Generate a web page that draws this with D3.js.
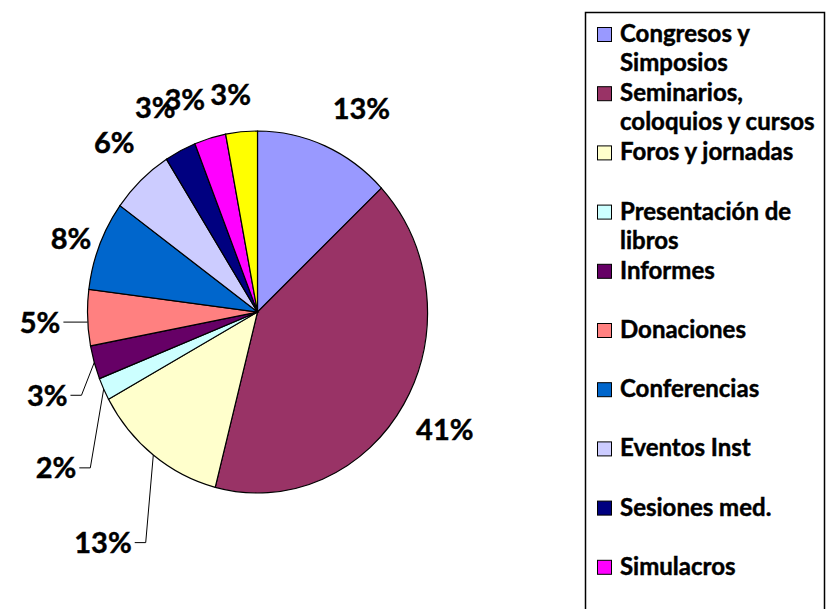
<!DOCTYPE html>
<html>
<head>
<meta charset="utf-8">
<script src="https://cdn.jsdelivr.net/npm/d3@7"></script>
<style>
    body { margin: 0; background: #fff; }
    svg text { font-family: Lato, "Open Sans", sans-serif; font-weight: bold; fill: #000; stroke: #000; stroke-width: 0.45px; }
</style>
</head>
<body>
<div id="chart"></div>
<script>
const categories = [
    "Congresos y|Simposios", "Seminarios,|coloquios y cursos", "Foros y jornadas",
    "Presentación de|libros", "Informes", "Donaciones", "Conferencias",
    "Eventos Inst", "Sesiones med.", "Simulacros", "Otros"
];
const shares = [13, 41, 13, 2, 3, 5, 8, 6, 3, 3, 3];
const sliceColors = [
    "#9999FF", "#993366", "#FFFFCC", "#CCFFFF", "#660066", "#FF8080",
    "#0066CC", "#CCCCFF", "#000080", "#FF00FF", "#FFFF00"
];

// label placement: angle (deg, clockwise from 12 o'clock) and radius factor, hand-tuned like the original
const labelPlacement = {
    0: { angle: 28.5, f: 1.28 },
    2: { angle: 215.5, f: 1.565, leader: true },
    3: { angle: 234, f: 1.465, leader: true },
    4: { angle: 249.6, f: 1.32, leader: true },
    5: { angle: 267.5, f: 1.28, leader: true },
    6: { angle: 290.4, f: 1.17 },
    7: { angle: 318, f: 1.26 },
    8: { angle: 332, f: 1.28 },
    9: { angle: 340, f: 1.25 },
    10: { angle: 352.5, f: 1.21 }
};

const W = 827, H = 609;
const cx = 257.5, cy = 312, rx = 170, ry = 181;

const svg = d3.select("#chart").append("svg")
    .attr("width", W)
    .attr("height", H);

const data = shares.map((v, i) => ({ name: categories[i], value: v, color: sliceColors[i] }));

const pie = d3.pie().sort(null).value(d => d.value).startAngle(0).endAngle(2 * Math.PI);
const arcs = pie(data);
const arc = d3.arc().innerRadius(0).outerRadius(rx);

svg.append("g")
    .attr("transform", `translate(${cx},${cy}) scale(1,${ry / rx})`)
    .selectAll("path")
    .data(arcs)
    .enter()
    .append("path")
    .attr("d", arc)
    .attr("fill", d => d.data.color)
    .attr("stroke", "#000")
    .attr("stroke-width", 1.2)
    .attr("vector-effect", "non-scaling-stroke");

function ellipsePoint(a, f) {
    return [cx + rx * f * Math.sin(a), cy - ry * f * Math.cos(a)];
}

const labels = svg.append("g");
arcs.forEach((d, i) => {
    const mid = (d.startAngle + d.endAngle) / 2;
    const p = labelPlacement[i] || {};
    const a = p.angle !== undefined ? p.angle * Math.PI / 180 : mid;
    const [lx, ly] = ellipsePoint(a, p.f || 1.28);

    const t = labels.append("text")
        .attr("x", lx)
        .attr("y", ly)
        .attr("dy", "0.36em")
        .attr("text-anchor", "middle")
        .style("font-size", "29px")
        .text(`${d.data.value}%`);

    if (p.leader) {
        const half = t.node().getComputedTextLength() / 2;
        const [ex, ey] = ellipsePoint(mid, 1);
        const x0 = lx + half + 3;
        const pts = Math.abs(ey - ly) < 6
            ? [[x0, ly], [ex, ly]]
            : [[x0, ly], [x0 + 11, ly], [ex, ey]];
        labels.append("path")
            .attr("d", d3.line()(pts))
            .attr("fill", "none")
            .attr("stroke", "#000")
            .attr("stroke-width", 1);
    }
});

// legend (the box runs past the bottom edge, as in the original)
const legend = svg.append("g");
legend.append("rect")
    .attr("x", 585.5)
    .attr("y", 12.5)
    .attr("width", 239)
    .attr("height", 700)
    .attr("fill", "#fff")
    .attr("stroke", "#000")
    .attr("stroke-width", 1.5);

const rowStep = 59.2, lineStep = 29;
data.forEach((d, i) => {
    const base = 42 + i * rowStep;
    if (base > H) return;
    legend.append("rect")
        .attr("x", 597.5)
        .attr("y", base - 14.5)
        .attr("width", 14)
        .attr("height", 14)
        .attr("fill", d.color)
        .attr("stroke", "#000")
        .attr("stroke-width", 1);
    d.name.split("|").forEach((line, j) => {
        legend.append("text")
            .attr("x", 620)
            .attr("y", base + j * lineStep)
            .style("font-size", "24px")
            .text(line);
    });
});
</script>
</body>
</html>
